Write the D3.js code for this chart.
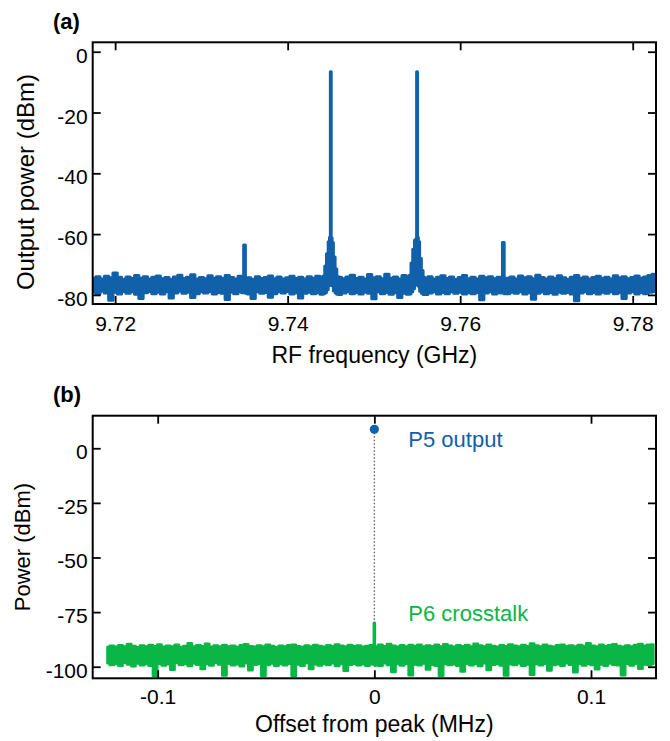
<!DOCTYPE html>
<html>
<head>
<meta charset="utf-8">
<script src="https://cdn.jsdelivr.net/npm/d3@7"></script>
<style>
  body { margin: 0; background: #fff; }
  text { font-family: "Liberation Sans", Arial, Helvetica, sans-serif; }
</style>
</head>
<body>
<svg id="fig" width="670" height="741"></svg>
<script>
// ---------- data: panel (a), RF spectrum ----------
// floor envelope sampled every 0.5 MHz starting at 9.7175 GHz (max / min of trace)
var rfStart = 9.7175, rfStep = 0.0005;
var rfFloorHi = [
  -74.6,-74.0,-74.8,-73.9,-74.4,-72.8,-74.2,-74.9,-74.1,-74.6,
  -73.6,-74.5,-74.0,-74.8,-74.2,-73.8,-74.7,-74.3,-74.9,-74.1,
  -73.5,-74.6,-74.2,-73.4,-74.8,-74.3,-74.7,-73.7,-74.5,-74.0,
  -74.6,-73.6,-74.3,-74.8,-73.9,-74.2,-74.4,-74.9,-74.0,-74.6,
  -74.3,-73.8,-74.7,-74.1,-74.8,-74.4,-73.9,-74.6,-74.2,-74.8,
  -74.0,-74.5,-73.9,-74.3,-73.0,-70.0,-73.0,-74.2,-74.7,-74.1,
  -73.5,-74.6,-74.2,-74.8,-73.3,-74.4,-74.0,-74.7,-73.2,-74.5,
  -74.1,-74.8,-73.6,-74.3,-73.0,-70.0,-73.0,-74.5,-74.0,-74.8,
  -74.2,-73.7,-74.6,-74.1,-74.9,-74.3,-73.6,-74.7,-74.2,-74.8,
  -73.9,-74.4,-74.0,-74.7,-74.2,-74.3,-74.5,-74.1,-74.8,-73.8,
  -74.4,-74.0,-74.7,-73.5,-74.3,-74.8,-74.1,-74.6,-73.7,-74.4,
  -74.9,-74.2,-73.6,-74.5,-74.1,-74.8,-74.3,-73.9,-74.6,-74.2,
  -74.8,-73.7,-74.4,-74.0,-74.7,-74.3,-73.8,-74.5,-74.1,-73.6,
  -73.2
];
var rfFloorLo = [
  -79.0,-79.6,-78.8,-79.4,-81.8,-79.1,-79.7,-78.9,-79.5,-79.0,
  -79.8,-81.2,-79.3,-78.9,-79.6,-79.1,-79.7,-79.0,-81.0,-79.4,
  -78.8,-79.5,-79.1,-80.9,-79.6,-79.0,-79.4,-78.9,-79.7,-79.2,
  -79.5,-81.5,-79.1,-79.6,-78.9,-79.3,-79.7,-81.2,-79.0,-79.5,
  -79.2,-80.8,-79.6,-79.0,-79.4,-78.9,-79.7,-79.3,-81.0,-79.5,
  -79.1,-79.6,-79.3,-79.8,-79.0,-76.0,-79.0,-79.9,-79.4,-79.0,
  -79.6,-79.2,-79.7,-79.1,-79.5,-81.3,-79.0,-79.6,-79.2,-79.8,
  -79.3,-80.9,-79.5,-79.8,-79.0,-76.0,-79.0,-79.9,-79.4,-79.0,
  -79.7,-79.2,-79.6,-79.0,-79.5,-79.1,-79.7,-79.3,-79.6,-79.2,
  -81.6,-79.4,-79.0,-79.7,-79.3,-79.3,-79.6,-79.1,-79.5,-79.0,
  -79.7,-79.3,-81.4,-79.5,-79.0,-79.6,-79.2,-79.8,-79.1,-79.5,
  -79.2,-79.7,-81.9,-79.4,-79.0,-79.6,-79.2,-79.7,-79.1,-79.5,
  -79.0,-79.6,-79.3,-81.2,-79.4,-79.0,-79.7,-79.2,-79.6,-79.1,
  -79.0
];
// peaks, finer sampling: [GHz, min dBm, max dBm]
var rfSideLow = [[9.7348,-79.3,-74.4],[9.7350,-78.2,-63.6],[9.7352,-79.5,-74.6]];
var rfToneLow = [
  [9.7442,-79.6,-73.8],[9.7444,-79.2,-70.5],[9.7446,-78.3,-66.5],[9.7448,-77.0,-62.5],
  [9.7449,-76.0,-61.0],[9.7450,-74.5,-6.6],[9.7451,-75.8,-61.2],[9.7452,-77.0,-62.8],
  [9.7454,-78.6,-67.5],[9.7456,-79.4,-71.5],[9.7458,-79.8,-74.0]
];
var rfToneHigh = [
  [9.7542,-79.7,-73.5],[9.7544,-79.0,-69.5],[9.7546,-78.0,-65.0],[9.7548,-76.8,-62.0],
  [9.7549,-75.8,-61.5],[9.7550,-74.8,-6.6],[9.7551,-76.0,-61.0],[9.7552,-77.2,-62.5],
  [9.7554,-78.8,-68.0],[9.7556,-79.5,-72.0],[9.7558,-79.9,-74.2]
];
var rfSideHigh = [[9.7648,-79.4,-74.3],[9.7650,-78.4,-62.8],[9.7652,-79.6,-74.5]];

var rfXTicks = [9.72, 9.74, 9.76, 9.78];
var rfYTicks = [0, -20, -40, -60, -80];

// ---------- data: panel (b), crosstalk ----------
// envelope sampled every 2 kHz from -0.1232 MHz
var ctStart = -0.1232, ctStep = 0.002;
var ctFloorHi = [
  -91.0,-90.4,-90.9,-90.2,-90.7,-89.6,-90.5,-91.1,-90.3,-90.8,
  -90.1,-90.6,-89.8,-90.9,-90.4,-90.7,-90.0,-91.0,-90.5,-89.3,
  -90.8,-90.2,-90.6,-89.5,-90.9,-90.3,-90.7,-90.1,-90.8,-90.4,
  -91.0,-90.2,-89.7,-90.6,-90.9,-90.3,-90.7,-90.0,-90.5,-91.1,
  -90.4,-90.8,-90.2,-89.9,-90.6,-91.0,-90.3,-90.7,-90.1,-90.5,
  -90.9,-90.2,-90.6,-89.8,-90.4,-90.8,-90.1,-90.6,-90.3,-90.9,
  -90.5,-90.2,-90.7,-90.0,-90.6,-89.6,-90.4,-90.9,-90.2,-90.7,
  -90.1,-90.5,-89.9,-90.8,-90.3,-90.6,-90.0,-90.7,-89.7,-90.4,
  -90.9,-90.2,-90.6,-90.1,-90.8,-89.5,-90.3,-90.7,-90.0,-90.5,
  -90.9,-90.2,-90.6,-89.8,-90.4,-90.8,-90.1,-90.6,-89.4,-90.3,
  -90.7,-90.0,-90.5,-90.9,-90.2,-89.9,-90.6,-90.3,-90.8,-90.1,
  -90.5,-89.2,-90.4,-90.8,-90.0,-90.6,-90.2,-89.7,-90.5,-90.9,
  -90.3,-90.7,-90.1,-89.6,-90.4,-90.0,-89.8
];
var ctFloorLo = [
  -98.4,-99.2,-98.7,-99.5,-98.2,-99.0,-99.8,-98.5,-99.3,-98.8,
  -99.6,-104.2,-98.6,-99.4,-98.9,-101.4,-98.3,-99.2,-98.7,-99.7,
  -98.5,-99.1,-101.0,-98.8,-99.4,-98.2,-99.0,-104.0,-98.6,-99.3,
  -98.9,-99.8,-98.4,-101.6,-99.1,-98.7,-104.1,-99.2,-98.5,-99.6,
  -98.8,-99.3,-98.6,-104.2,-99.0,-99.5,-98.3,-101.1,-98.9,-99.4,
  -98.7,-99.2,-98.4,-99.7,-98.8,-101.8,-99.1,-98.6,-99.3,-98.9,
  -99.5,-98.7,-99.1,-99.6,-98.4,-99.2,-102.4,-98.8,-99.4,-98.6,
  -103.9,-99.0,-99.3,-98.5,-101.3,-99.1,-99.6,-104.1,-98.7,-99.2,
  -98.9,-99.5,-102.2,-98.6,-99.3,-98.8,-99.7,-98.4,-101.5,-99.1,
  -98.7,-99.4,-104.0,-98.9,-99.2,-98.5,-99.6,-99.0,-103.7,-98.8,
  -99.3,-98.6,-101.7,-99.2,-98.9,-99.5,-98.4,-99.1,-102.5,-98.8,
  -99.4,-98.7,-99.2,-101.2,-99.0,-99.6,-98.5,-99.1,-99.3,-103.9,
  -98.8,-99.4,-98.6,-100.9,-99.0,-99.2,-98.7
];
var ctPeak = [[-0.0005,-99.0,-90.6],[0,-97.0,-80.0],[0.0005,-99.5,-90.6]];
var p5Offset = 0, p5Power = 8.7;

var ctXTicks = [-0.1, 0, 0.1];
var ctYTicks = [0, -25, -50, -75, -100];

// ---------- drawing ----------
var svg = d3.select("#fig"),
    blue = "#1160aa",
    green = "#09b646";

// floor samples + finer peak samples, peak replaces floor where they overlap
function buildTrace(start, step, hi, lo, peaks) {
  var pts = hi.map(function(h, i) { return {f: start + i * step, hi: h, lo: lo[i]}; });
  peaks.forEach(function(pk) {
    var f0 = pk[0][0], f1 = pk[pk.length - 1][0];
    pts = pts.filter(function(p) { return p.f < f0 - 1e-9 || p.f > f1 + 1e-9; });
    pk.forEach(function(q) { pts.push({f: q[0], lo: q[1], hi: q[2]}); });
  });
  pts.sort(function(a, b) { return a.f - b.f; });
  return pts;
}

function drawPanel(o) {
  var x = d3.scaleLinear().domain(o.xDomain).range([o.left, o.right]),
      y = d3.scaleLinear().domain(o.yDomain).range([o.bottom, o.top]),
      g = svg.append("g");

  g.append("clipPath").attr("id", o.id + "clip")
    .append("rect").attr("x", o.left).attr("y", o.top)
    .attr("width", o.right - o.left).attr("height", o.bottom - o.top);

  // each sample is a bin of the analyser trace -> step shape
  var band = d3.area()
      .curve(d3.curveStep)
      .x(function(d) { return x(d.f); })
      .y0(function(d) { return y(d.lo); })
      .y1(function(d) { return y(d.hi); });

  g.append("path")
    .datum(o.trace)
    .attr("clip-path", "url(#" + o.id + "clip)")
    .attr("d", band)
    .attr("fill", o.color)
    .attr("stroke", o.color)
    .attr("stroke-width", o.lineWidth)
    .attr("stroke-linejoin", "round");

  // axes, ticks pointing inwards on all four sides
  var bottom = g.append("g").attr("transform", "translate(0," + o.bottom + ")")
      .call(d3.axisBottom(x).tickValues(o.xTicks).tickFormat(o.xFmt)
        .tickSizeInner(-8).tickSizeOuter(0).tickPadding(o.xPad));
  var top = g.append("g").attr("transform", "translate(0," + o.top + ")")
      .call(d3.axisTop(x).tickValues(o.xTicks).tickFormat("")
        .tickSizeInner(-8).tickSizeOuter(0));
  var left = g.append("g").attr("transform", "translate(" + o.left + ",0)")
      .call(d3.axisLeft(y).tickValues(o.yTicks).tickFormat(function(d) { return String(d); })
        .tickSizeInner(-8).tickSizeOuter(0).tickPadding(5));
  var right = g.append("g").attr("transform", "translate(" + o.right + ",0)")
      .call(d3.axisRight(y).tickValues(o.yTicks).tickFormat("")
        .tickSizeInner(-8).tickSizeOuter(0));

  [bottom, top, left, right].forEach(function(a) {
    a.select(".domain").remove();
    a.selectAll(".tick line").attr("stroke", "#000").attr("stroke-width", 1.8);
    a.selectAll(".tick text").attr("fill", "#000").style("font-size", "21px");
  });
  left.selectAll(".tick text").attr("dy", "0.5em");

  g.append("rect")
    .attr("x", o.left).attr("y", o.top)
    .attr("width", o.right - o.left).attr("height", o.bottom - o.top)
    .attr("fill", "none").attr("stroke", "#000").attr("stroke-width", 2);

  // titles
  g.append("text")
    .attr("x", (o.left + o.right) / 2).attr("y", o.xTitleY)
    .attr("text-anchor", "middle").style("font-size", "23px")
    .text(o.xTitle);
  g.append("text")
    .attr("transform", "translate(" + o.yTitleX + "," + o.yTitleY + ") rotate(-90)")
    .attr("text-anchor", "middle").style("font-size", o.yTitleSize)
    .text(o.yTitle);
  g.append("text")
    .attr("x", 53).attr("y", o.labelY)
    .style("font-size", "22px").style("font-weight", "bold")
    .text(o.label);

  return {x: x, y: y, g: g};
}

// panel (a)
drawPanel({
  id: "a", label: "(a)", labelY: 29,
  left: 92.7, right: 656, top: 42.3, bottom: 304,
  xDomain: [9.7174, 9.7827], yDomain: [-83, 3.1],
  xTicks: rfXTicks, yTicks: rfYTicks, xFmt: d3.format(".2f"), xPad: 12,
  trace: buildTrace(rfStart, rfStep, rfFloorHi, rfFloorLo,
                    [rfSideLow, rfToneLow, rfToneHigh, rfSideHigh]),
  color: blue, lineWidth: 3,
  xTitle: "RF frequency (GHz)", xTitleY: 363,
  yTitle: "Output power (dBm)", yTitleX: 34, yTitleY: 182, yTitleSize: "24px"
});

// panel (b)
var pb = drawPanel({
  id: "b", label: "(b)", labelY: 401.5,
  left: 92.7, right: 656, top: 415.7, bottom: 678.3,
  xDomain: [-0.13, 0.13], yDomain: [-105.3, 14.9],
  xTicks: ctXTicks, yTicks: ctYTicks, xFmt: function(d) { return String(d); }, xPad: 11,
  trace: buildTrace(ctStart, ctStep, ctFloorHi, ctFloorLo, [ctPeak]),
  color: green, lineWidth: 2.5,
  xTitle: "Offset from peak (MHz)", xTitleY: 732,
  yTitle: "Power (dBm)", yTitleX: 30, yTitleY: 547, yTitleSize: "22px"
});

// P5 output point and dotted guide down to the crosstalk peak
pb.g.append("line")
  .attr("x1", pb.x(p5Offset)).attr("x2", pb.x(p5Offset))
  .attr("y1", pb.y(p5Power)).attr("y2", pb.y(ctPeak[1][2]))
  .attr("stroke", "#666").attr("stroke-width", 1.4)
  .attr("stroke-dasharray", "1.5,2");
pb.g.append("circle")
  .attr("cx", pb.x(p5Offset)).attr("cy", pb.y(p5Power)).attr("r", 4.6)
  .attr("fill", blue);

pb.g.append("text")
  .attr("x", pb.x(p5Offset) + 34).attr("y", pb.y(p5Power) + 17.5)
  .attr("fill", blue).style("font-size", "22px")
  .text("P5 output");
pb.g.append("text")
  .attr("x", pb.x(p5Offset) + 34).attr("y", 621)
  .attr("fill", green).style("font-size", "22px")
  .text("P6 crosstalk");
</script>
</body>
</html>
